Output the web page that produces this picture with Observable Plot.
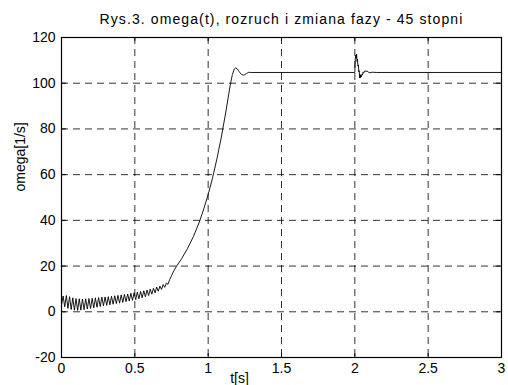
<!DOCTYPE html>
<html>
<head>
<meta charset="utf-8">
<script src="https://cdn.jsdelivr.net/npm/d3@7"></script>
<script src="https://cdn.jsdelivr.net/npm/@observablehq/plot@0.6"></script>
<style>
html,body{margin:0;padding:0;background:#fff;}
svg{display:block;}
</style>
</head>
<body>
<div id="chart"></div>
<script>
// Start-up phase: noisy oscillation (time in s, omega in 1/s)
const tStart = [0.000,0.011,0.022,0.033,0.044,0.055,0.066,0.077,0.088,0.099,
  0.110,0.121,0.132,0.143,0.154,0.165,0.176,0.187,0.198,0.209,
  0.220,0.231,0.242,0.253,0.264,0.275,0.286,0.297,0.308,0.319,
  0.330,0.341,0.352,0.363,0.374,0.385,0.396,0.407,0.418,0.429,
  0.440,0.451,0.462,0.473,0.484,0.495,0.506,0.517,0.528,0.539,
  0.550,0.561,0.572,0.583,0.594,0.605,0.616,0.627,0.638,0.649,
  0.660,0.671,0.682,0.693,0.704,0.715,0.726,0.737,0.750,0.765];
const wStart = [3.0,6.9,2.2,7.1,1.5,6.6,1.0,6.1,0.7,5.8,
  0.6,5.7,0.7,5.6,0.9,5.7,1.2,5.8,1.4,5.9,
  1.7,6.1,2.0,6.2,2.3,6.4,2.6,6.5,2.8,6.6,
  3.0,6.8,3.3,7.0,3.6,7.2,3.8,7.4,4.1,7.6,
  4.4,7.8,4.7,8.1,5.0,8.3,5.3,8.6,5.7,8.9,
  6.1,9.2,6.6,9.5,7.1,9.9,7.7,10.3,8.3,10.8,
  9.0,11.3,9.8,11.9,10.7,12.6,12.0,14.0,15.8,17.8];
// Acceleration and first settling
const tRise = [0.785,0.820,0.860,0.900,0.940,0.970,1.000,1.030,1.060,1.090,1.120,1.150,1.165,1.178,1.188,1.198,1.212,1.228,1.243,1.260,1.277,1.290];
const wRise = [20.0,23.3,27.8,33.0,39.3,45.0,51.3,58.6,67.0,76.5,87.3,99.0,103.8,106.2,106.7,106.3,105.0,103.8,103.5,104.2,104.8,104.7];
// Phase change at t = 2 s and steady state
const tPhase = [2.000,2.003,2.006,2.009,2.012,2.015,2.018,2.021,2.024,2.027,2.030,2.033,2.036,2.039,2.042,2.045,2.048,2.052,2.056,2.060,2.065,2.070,2.075,2.080,2.086,2.092,2.100,2.120,2.150,3.000];
const wPhase = [104.7,110.5,112.3,110.8,112.8,109.5,110.6,107.5,108.0,105.0,105.5,102.3,103.8,102.4,103.6,102.8,103.9,103.6,104.8,104.4,105.3,105.0,105.5,105.1,105.3,104.8,104.6,104.8,104.7,104.7];

const xTicks = [0,0.5,1,1.5,2,2.5,3];
const yTicks = [-20,0,20,40,60,80,100,120];
const titleText = "Rys.3. omega(t), rozruch i zmiana fazy - 45 stopni";
const xLabel = "t[s]";
const yLabel = "omega[1/s]";

const data = [
  ...tStart.map((t,i)=>({t, w: wStart[i]})),
  ...tRise.map((t,i)=>({t, w: wRise[i]})),
  ...tPhase.map((t,i)=>({t, w: wPhase[i]}))
];

const font = "'Liberation Sans', Arial, Helvetica, sans-serif";

const chart = Plot.plot({
  width: 508,
  height: 385,
  marginLeft: 61,
  marginRight: 7,
  marginTop: 37,
  marginBottom: 28,
  style: {fontFamily: font, fontSize: "14px", color: "#000", background: "#fff"},
  x: {domain: [0,3], ticks: xTicks},
  y: {domain: [-20,120], ticks: yTicks},
  marks: [
    Plot.gridX(xTicks, {stroke: "#000", strokeOpacity: 0.8, strokeDasharray: "7,5", strokeWidth: 1}),
    Plot.gridY(yTicks, {stroke: "#000", strokeOpacity: 0.8, strokeDasharray: "7,5", strokeWidth: 1}),
    Plot.axisX(xTicks, {anchor: "bottom", tickSize: 0, tickPadding: 6, label: null, fontSize: 14, tickFormat: d => String(d)}),
    Plot.axisY(yTicks, {anchor: "left", tickSize: 0, tickPadding: 6, label: null, fontSize: 14, tickFormat: d => String(d)}),
    Plot.ruleX(xTicks, {x: d => d, y1: -20, y2: -18.3, stroke: "#000"}),
    Plot.ruleX(xTicks, {x: d => d, y1: 120, y2: 118.3, stroke: "#000"}),
    Plot.ruleY(yTicks, {y: d => d, x1: 0, x2: 0.033, stroke: "#000"}),
    Plot.ruleY(yTicks, {y: d => d, x1: 3, x2: 2.967, stroke: "#000"}),
    Plot.frame({stroke: "#000", strokeWidth: 1.2}),
    Plot.line(data, {x: "t", y: "w", stroke: "#000", strokeWidth: 0.9}),
    Plot.text([titleText], {frameAnchor: "top", dy: -18, fontSize: 14, fill: "#000", lineAnchor: "middle", className: "ttl"}),
    Plot.text([xLabel], {frameAnchor: "bottom", dx: -42, dy: 21, fontSize: 14, fill: "#000", lineAnchor: "middle"}),
    Plot.text([yLabel], {frameAnchor: "left", dx: -41, dy: -6, rotate: -90, fontSize: 14, fill: "#000", lineAnchor: "middle"})
  ]
});
d3.select(chart).selectAll(".ttl text").attr("letter-spacing", "1.1px");
document.getElementById("chart").appendChild(chart);
</script>
</body>
</html>
